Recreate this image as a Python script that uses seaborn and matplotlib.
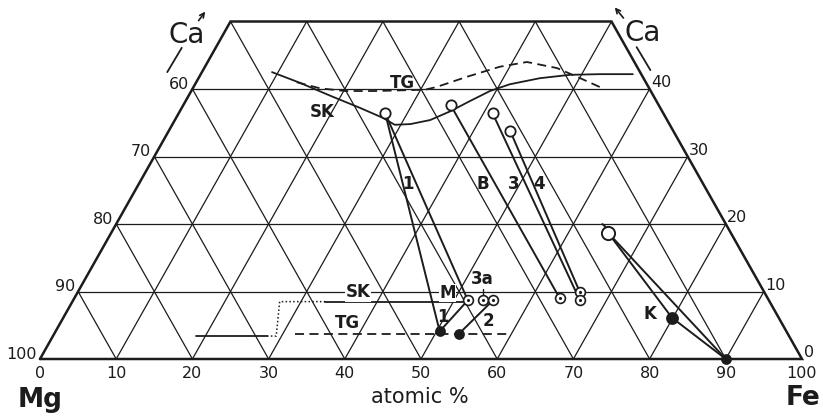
import numpy as np
import pandas as pd
import matplotlib.pyplot as plt
import seaborn as sns

sns.set_style("white")
plt.rcParams['font.family'] = ['DejaVu Sans']

INK = '#1c1c1c'

# ---- data, all as (Fe, Ca) in atomic % ----

# upper boundary curves
sk_fe = [9.2, 13.7, 18.6, 23.4, 27.2, 29.2, 31.2, 33.5, 35.5, 37.3, 39.2, 41.3, 44.8, 48.5, 52.4, 56.7]
sk_ca = [42.5, 40.9, 39.0, 37.2, 35.7, 34.7, 34.8, 35.4, 36.7, 38.2, 39.7, 40.7, 41.6, 42.1, 42.2, 42.2]
tg_fe = [13.2, 16.7, 20.2, 24.1, 30.6, 31.9, 35.1, 38.7, 41.9, 46.3, 50.1, 53.3]
tg_ca = [41.0, 40.1, 39.7, 39.7, 39.9, 40.3, 41.8, 43.3, 44.0, 43.1, 41.6, 40.3]

# low-Ca boundaries
sk_low_fe = [33.2, 51.3]
sk_low_ca = [8.5, 8.5]
sk_left_fe = [18.8, 28.1]
sk_left_ca = [3.4, 3.4]
sk_dot_fe = [28.1, 29.3, 27.2, 33.2]
sk_dot_ca = [3.4, 3.4, 8.5, 8.5]
tg_low_fe = [31.6, 59.8]
tg_low_ca = [3.7, 3.7]

# tie lines: name, Fe list, Ca list
tie_names = ['1a', '1b', '1c', '2', 'B', '3', '4', 'K', 'K2']
tie_fe = [[27.1, 50.4], [27.1, 51.8], [50.4, 51.8], [53.1, 55.1], [35.1, 63.7],
          [41.2, 66.5], [44.8, 65.9], [65.2, 79.9, 90.0], [65.2, 90.0]]
tie_ca = [[36.4, 4.1], [36.4, 8.7], [4.1, 8.7], [3.7, 8.7], [37.6, 9.0],
          [36.4, 8.7], [33.8, 9.9], [18.7, 6.1, 0.0], [18.7, 0.0]]

# points
open_fe = [27.1, 35.1, 41.2, 44.8]
open_ca = [36.4, 37.6, 36.4, 33.8]
big_open_fe = [65.2]
big_open_ca = [18.7]
ring_fe = [51.8, 53.8, 55.1, 63.7, 65.9, 66.5]
ring_ca = [8.7, 8.7, 8.7, 9.0, 9.9, 8.7]
solid_fe = [50.4, 53.1, 90.0]
solid_ca = [4.1, 3.7, 0.0]
k_fe = [79.9]
k_ca = [6.1]

grid_steps = [10, 20, 30, 40, 50, 60, 70, 80, 90]
ca_levels = [10, 20, 30, 40]
bottom_ticks = [0, 10, 20, 30, 40, 50, 60, 70, 80, 90, 100]
side_ca = [0, 10, 20, 30, 40]


def tern(fe, ca):
    # Fe-Ca composition -> plot coords, x along Mg-Fe, y is Ca
    fe = np.asarray(fe, float)
    ca = np.asarray(ca, float)
    return fe + ca / 2, ca


fig = plt.figure(figsize=(8.23, 4.17), dpi=100)
ax = fig.add_axes([0, 0, 1, 1])
ax.set_xlim(-40 / 7.62, 783 / 7.62)
ax.set_ylim(-58 / 6.75, 359 / 6.75)
ax.axis('off')

# triangle grid
for c in ca_levels:
    ax.plot([c / 2, 100 - c / 2], [c, c], color=INK, lw=0.9, zorder=1)
for f in grid_steps:
    top = min(50, 100 - f)
    x, y = tern([f, f], [0, top])
    ax.plot(x, y, color=INK, lw=0.9, zorder=1)
    x, y = tern([100 - f, 100 - f - top], [0, top])
    ax.plot(x, y, color=INK, lw=0.9, zorder=1)

# outline
x, y = tern([0, 100, 50, 0, 0], [0, 0, 50, 50, 0])
ax.plot(x, y, color=INK, lw=1.8, zorder=2, solid_joinstyle='miter')

# boundary curves
x, y = tern(sk_fe, sk_ca)
sns.lineplot(x=x, y=y, sort=False, color=INK, lw=1.3, ax=ax, zorder=3)
x, y = tern(tg_fe, tg_ca)
sns.lineplot(x=x, y=y, sort=False, color=INK, lw=1.3, ax=ax, zorder=3, linestyle=(0, (5, 3)))
x, y = tern(sk_low_fe, sk_low_ca)
sns.lineplot(x=x, y=y, sort=False, color=INK, lw=1.3, ax=ax, zorder=3)
x, y = tern(sk_left_fe, sk_left_ca)
sns.lineplot(x=x, y=y, sort=False, color=INK, lw=1.3, ax=ax, zorder=3)
x, y = tern(sk_dot_fe, sk_dot_ca)
sns.lineplot(x=x, y=y, sort=False, color=INK, lw=1.1, ax=ax, zorder=3, linestyle=(0, (1, 1.5)))
x, y = tern(tg_low_fe, tg_low_ca)
sns.lineplot(x=x, y=y, sort=False, color=INK, lw=1.3, ax=ax, zorder=3, linestyle=(0, (5, 3)))

# tie lines
rows = []
for name, fs, cs in zip(tie_names, tie_fe, tie_ca):
    xs, ys = tern(fs, cs)
    for i, (a, b) in enumerate(zip(xs, ys)):
        rows.append({'seg': name, 'order': i, 'x': a, 'y': b})
ties = pd.DataFrame(rows)
sns.lineplot(data=ties, x='x', y='y', units='seg', estimator=None, sort=False,
             color=INK, lw=1.4, ax=ax, zorder=4, legend=False)

# markers
x, y = tern(open_fe, open_ca)
sns.scatterplot(x=x, y=y, s=55, marker='o', facecolor='white', edgecolor=INK, linewidth=1.3, ax=ax, zorder=6)
x, y = tern(big_open_fe, big_open_ca)
sns.scatterplot(x=x, y=y, s=90, marker='o', facecolor='white', edgecolor=INK, linewidth=1.4, ax=ax, zorder=6)
x, y = tern(ring_fe, ring_ca)
sns.scatterplot(x=x, y=y, s=50, marker='o', facecolor='white', edgecolor=INK, linewidth=1.2, ax=ax, zorder=6)
sns.scatterplot(x=x, y=y, s=5, marker='o', color=INK, linewidth=0, ax=ax, zorder=7)
x, y = tern(solid_fe, solid_ca)
sns.scatterplot(x=x, y=y, s=60, marker='o', color=INK, linewidth=0, ax=ax, zorder=6)
x, y = tern(k_fe, k_ca)
sns.scatterplot(x=x, y=y, s=85, marker='o', color=INK, linewidth=0, ax=ax, zorder=6)

# tick labels
for v in bottom_ticks:
    ax.text(v, -2.1, str(v), ha='center', va='center', fontsize=11.5, color=INK)
for c in side_ca:
    ax.text(c / 2 - 0.4, c + 0.7, str(100 - c), ha='right', va='center', fontsize=11.5, color=INK)
    ax.text(100 - c / 2 + 0.2, c + 0.9, str(c), ha='left', va='center', fontsize=11.5, color=INK)

# field labels
bold = dict(ha='center', va='center', fontsize=12, fontweight='bold', color=INK)
ax.text(37.0, 36.6, 'SK', **bold)
ax.text(47.5, 40.9, 'TG', **bold)
ax.text(48.3, 25.9, '1', **bold)
ax.text(58.1, 25.9, 'B', **bold)
ax.text(62.1, 25.9, '3', **bold)
ax.text(65.5, 25.9, '4', **bold)
ax.text(41.7, 9.9, 'SK', bbox=dict(fc='white', ec='none', pad=0.5), zorder=5, **bold)
ax.text(40.3, 5.3, 'TG', **bold)
ax.text(53.5, 9.8, 'M', bbox=dict(fc='white', ec='none', pad=0.3), zorder=5, **bold)
ax.text(58.0, 11.8, '3a', **bold)
ax.text(52.9, 6.2, '1', **bold)
ax.text(58.8, 5.6, '2', **bold)
ax.text(80.1, 6.7, 'K', **bold)

# small pointer ticks
ax.plot([58.1, 58.1], [10.4, 9.5], color=INK, lw=1.0, zorder=5)
ax.plot([73.8, 74.2], [20.0, 19.6], color=INK, lw=1.4, zorder=5)

# axis names
ax.text(0, -6.1, 'Mg', ha='center', va='center', fontsize=19, fontweight='bold', color=INK)
ax.text(100.1, -5.8, 'Fe', ha='center', va='center', fontsize=19, fontweight='bold', color=INK)
ax.text(49.9, -5.6, 'atomic %', ha='center', va='center', fontsize=15, color=INK)
ax.text(19.3, 48.0, 'Ca', ha='center', va='center', fontsize=20, color=INK)
ax.text(79.1, 48.3, 'Ca', ha='center', va='center', fontsize=20, color=INK)

# Ca direction marks
ax.annotate('', xy=(21.9, 51.8), xytext=(20.6, 49.8),
            arrowprops=dict(arrowstyle='->', color=INK, lw=1.2, mutation_scale=8))
ax.plot([16.7, 18.6], [42.5, 46.1], color=INK, lw=1.3)
ax.annotate('', xy=(75.2, 52.4), xytext=(76.8, 50.2),
            arrowprops=dict(arrowstyle='->', color=INK, lw=1.2, mutation_scale=8))
ax.plot([78.3, 80.1], [46.2, 42.8], color=INK, lw=1.3)

fig.savefig('out.png', dpi=100)
